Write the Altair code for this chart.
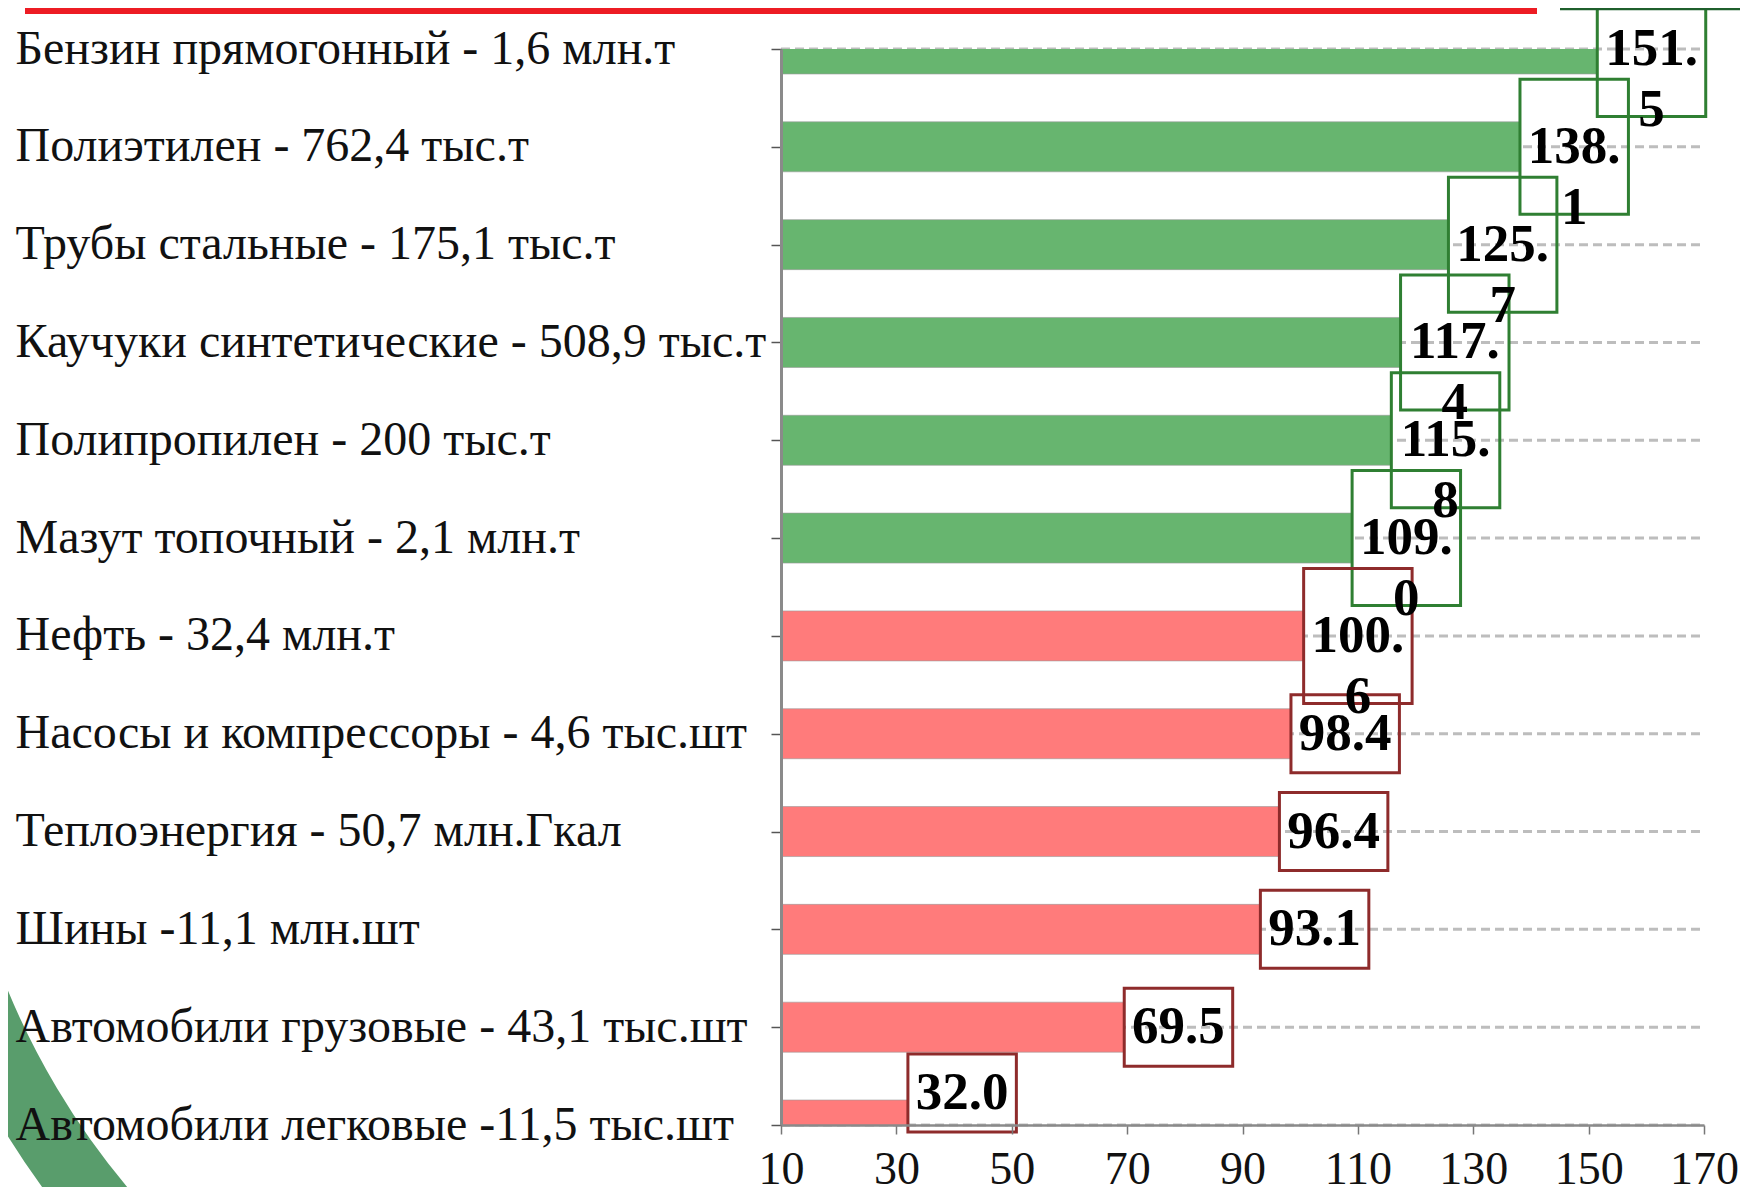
import altair as alt
import pandas as pd

categories = [
    "Бензин прямогонный - 1,6 млн.т",
    "Полиэтилен - 762,4 тыс.т",
    "Трубы стальные - 175,1 тыс.т",
    "Каучуки синтетические - 508,9 тыс.т",
    "Полипропилен - 200 тыс.т",
    "Мазут топочный - 2,1 млн.т",
    "Нефть - 32,4 млн.т",
    "Насосы и компрессоры - 4,6 тыс.шт",
    "Теплоэнергия - 50,7 млн.Гкал",
    "Шины -11,1 млн.шт",
    "Автомобили грузовые - 43,1 тыс.шт",
    "Автомобили легковые -11,5  тыс.шт",
]
values = [151.5, 138.1, 125.7, 117.4, 115.8, 109.0, 100.6, 98.4, 96.4, 93.1, 69.5, 32.0]
groups = ["рост"] * 6 + ["снижение"] * 6
x_ticks = [10, 30, 50, 70, 90, 110, 130, 150, 170]


def wrap(v):
    t = f"{v:.1f}"
    return t if len(t) <= 4 else t[:4] + "\n" + t[4:]


labels = [wrap(v) for v in values]
nlines = [l.count("\n") + 1 for l in labels]

df = pd.DataFrame({"category": categories, "value": values, "group": groups,
                   "label": labels, "lines": nlines})

# style constants
W, H = 923, 1076
BOX_W = 18.8  # box width in axis units
FONT = "Liberation Serif"
GREEN, RED = "#67b56f", "#ff7b7b"
GREEN_D, RED_D = "#2f7f32", "#8e2b2b"

xs = alt.Scale(domain=[10, 170], zero=False, nice=False)
ys = alt.Scale(type="point", padding=0, domain=categories)

y_axis = alt.Axis(title=None, labelAlign="left", labelPadding=756, labelFont=FONT,
                  labelFontSize=48, labelColor="#111", labelBaseline="middle",
                  tickSize=10, tickColor="#555", tickWidth=1.5,
                  domainColor="#8a8a8a", domainWidth=3, grid=False,
                  labelLimit=0, labelOverlap=False, zindex=2)
x_axis = alt.Axis(title=None, values=x_ticks, labelFont=FONT, labelFontSize=46,
                  labelColor="#111", tickSize=9, tickColor="#777", tickWidth=1.5,
                  domainColor="#8a8a8a", domainWidth=2.5, grid=False, labelPadding=13,
                  labelFlush=False, labelOverlap=False, zindex=2)

Y = alt.Y("category:N", scale=ys, sort=None, axis=y_axis)
base = alt.Chart(df)

grid = base.mark_rule(color="#bdbdbd", strokeWidth=3, strokeDash=[9, 5]).encode(
    y=Y, x=alt.value(0), x2=alt.value(W),
)

bars = base.mark_bar(size=50, clip=True, stroke="#9a9a9a", strokeWidth=1, strokeOpacity=0.6).encode(
    y=Y,
    x=alt.X("value:Q", scale=xs, axis=x_axis),
    x2=alt.value(0),
    fill=alt.Fill("group:N", scale=alt.Scale(domain=["рост", "снижение"], range=[GREEN, RED]),
                  legend=None),
)

stroke_enc = alt.Stroke("group:N", scale=alt.Scale(domain=["рост", "снижение"], range=[GREEN_D, RED_D]),
                        legend=None)

boxes_base = base.transform_calculate(box_end=f"datum.value + {BOX_W}",
                                      mid=f"datum.value + {BOX_W / 2}")
last = categories[-1]
XB = alt.X("value:Q", scale=xs, axis=x_axis)

box2 = boxes_base.transform_filter("datum.lines == 2").mark_bar(
    size=135, fillOpacity=0, strokeWidth=3).encode(y=Y, x=XB, x2="box_end:Q", stroke=stroke_enc)
box1 = boxes_base.transform_filter(f"datum.lines == 1 && datum.category != '{last}'").mark_bar(
    size=78, fillOpacity=0, strokeWidth=3).encode(y=Y, x=XB, x2="box_end:Q", stroke=stroke_enc)
box_last = boxes_base.transform_filter(f"datum.category == '{last}'").mark_bar(
    size=78, fillOpacity=0, strokeWidth=3, yOffset=-32).encode(y=Y, x=XB, x2="box_end:Q", stroke=stroke_enc)

txt_kw = dict(font=FONT, fontSize=53, fontWeight="bold", color="#000", lineBreak="\n",
              lineHeight=61, align="center", baseline="middle")
XM = alt.X("mid:Q", scale=xs, axis=x_axis)
txt = boxes_base.transform_filter(f"datum.category != '{last}'").mark_text(**txt_kw).encode(
    y=Y, x=XM, text="label:N")
txt_last = boxes_base.transform_filter(f"datum.category == '{last}'").mark_text(yOffset=-32, **txt_kw).encode(
    y=Y, x=XM, text="label:N")

one = alt.Data(values=[{"k": 1}])
swoosh = alt.Chart(one).mark_arc(radius=825, radius2=758, theta=3.75, theta2=4.6,
                                 color="#599d6c").encode(x=alt.value(-73), y=alt.value(651))
red_line = alt.Chart(one).mark_rule(color="#ED1C24", strokeWidth=6).encode(
    x=alt.value(-756), x2=alt.value(756), y=alt.value(-38))
green_line = alt.Chart(one).mark_rule(color="#1f5f2c", strokeWidth=2.5).encode(
    x=alt.value(779), x2=alt.value(966), y=alt.value(-40))

chart = alt.layer(grid, bars, swoosh, box2, box1, box_last, txt, txt_last, red_line, green_line).properties(
    width=W, height=H,
    autosize=alt.AutoSizeParams(type="none"),
    padding={"left": 773, "top": 41, "right": 36, "bottom": 62},
    background="white",
).configure_view(stroke=None)

chart.save("out.html", embed_options={"renderer": "svg", "actions": False})
